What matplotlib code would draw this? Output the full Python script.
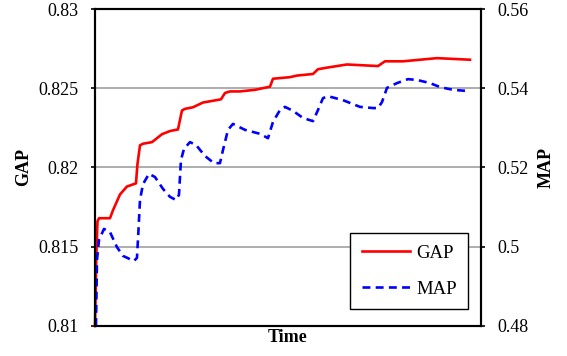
import numpy as np
import matplotlib
matplotlib.use("Agg")
import matplotlib.pyplot as plt

plt.rcParams['font.family'] = ['Liberation Serif', 'DejaVu Serif']

# time in arbitrary units (0-100)
gap_time = [0, 0.39, 0.65, 1.04, 3.89, 4.66, 6.48, 8.29, 10.62, 11.0, 11.66, 12.44,
            14.77, 17.36, 19.43, 21.5, 22.54, 23.32, 25.39, 27.98, 30.31, 32.64,
            33.68, 34.97, 37.56, 41.45, 45.34, 46.11, 50.52, 52.33, 56.48, 57.77,
            60.1, 65.28, 73.32, 75.13, 79.79, 88.6, 97.15]
gap = [0.8100, 0.8148, 0.8166, 0.8168, 0.8168, 0.8173, 0.8183, 0.8188, 0.8190,
       0.8202, 0.8214, 0.8215, 0.8216, 0.8221, 0.8223, 0.8224, 0.8236, 0.8237,
       0.8238, 0.8241, 0.8242, 0.8243, 0.8247, 0.8248, 0.8248, 0.8249, 0.8251,
       0.8256, 0.8257, 0.8258, 0.8259, 0.8262, 0.8263, 0.8265, 0.8264, 0.8267,
       0.8267, 0.8269, 0.8268]

map_time = [0.26, 0.52, 1.04, 2.33, 3.89, 5.7, 7.25, 10.1, 10.88, 11.27, 11.66,
            12.44, 13.99, 15.54, 17.62, 19.43, 20.98, 21.76, 22.28, 23.06, 24.61,
            26.17, 28.5, 30.83, 32.38, 33.16, 34.46, 35.75, 38.86, 42.75, 44.82,
            46.11, 47.93, 49.22, 51.3, 53.89, 56.48, 57.77, 59.07, 60.36, 64.25,
            68.65, 72.02, 73.32, 74.35, 75.65, 78.24, 81.09, 83.42, 86.79, 89.38,
            92.75, 96.63]
map_vals = [0.4800, 0.4967, 0.5017, 0.5045, 0.5037, 0.4999, 0.4977, 0.4964, 0.4972,
            0.5042, 0.5118, 0.5158, 0.5184, 0.5176, 0.5146, 0.5126, 0.5118, 0.5131,
            0.5219, 0.5247, 0.5264, 0.5257, 0.5229, 0.5211, 0.5211, 0.5244, 0.5295,
            0.5310, 0.5295, 0.5285, 0.5274, 0.5315, 0.5345, 0.5353, 0.5343, 0.5325,
            0.5317, 0.5345, 0.5375, 0.5380, 0.5370, 0.5353, 0.5350, 0.5350, 0.5365,
            0.5401, 0.5413, 0.5423, 0.5421, 0.5413, 0.5403, 0.5396, 0.5393]

gap_ticks = [0.81, 0.815, 0.82, 0.825, 0.83]
map_ticks = [0.48, 0.5, 0.52, 0.54, 0.56]

fig = plt.figure(figsize=(5.67, 3.56), dpi=100)
ax = fig.add_axes([0.1675, 0.0843, 0.6808, 0.8904])
ax2 = ax.twinx()

ax.set_xlim(0, 100)
ax.set_ylim(0.81, 0.83)
ax2.set_ylim(0.48, 0.56)
ax.set_yticks(gap_ticks)
ax.set_yticklabels(['0.81', '0.815', '0.82', '0.825', '0.83'])
ax2.set_yticks(map_ticks)
ax2.set_yticklabels(['0.48', '0.5', '0.52', '0.54', '0.56'])
ax.set_xticks([])

ax.grid(True, axis='y', color='#a0a0a0', linewidth=1.2)
ax.set_axisbelow(True)

l1, = ax.plot(gap_time, gap, color='#ff0000', linewidth=1.9, label='GAP',
              solid_joinstyle='round', clip_on=False)
l2, = ax2.plot(map_time, map_vals, color='#0000ff', linewidth=1.9, label='MAP',
               linestyle=(0, (3, 2)), clip_on=False)

for a in (ax, ax2):
    for s in a.spines.values():
        s.set_linewidth(1.5)
        s.set_color('black')
    a.tick_params(axis='y', labelsize=13, length=3, width=1.2, direction='out', pad=9)

ax.set_ylabel('GAP', fontsize=13, fontweight='bold', labelpad=4)
ax2.set_ylabel('MAP', fontsize=13, fontweight='bold', labelpad=6)
ax.set_xlabel('Time', fontsize=13, fontweight='bold', labelpad=2)

leg = ax2.legend([l1, l2], ['GAP', 'MAP'], loc='lower right',
                 bbox_to_anchor=(0.966, 0.054), borderaxespad=0, fontsize=13.5,
                 fancybox=False, framealpha=1, edgecolor='black', handlelength=2.6,
                 labelspacing=1.0, borderpad=0.6, handletextpad=0.3)
leg.get_frame().set_linewidth(1.0)

fig.savefig('out.png', dpi=100)
